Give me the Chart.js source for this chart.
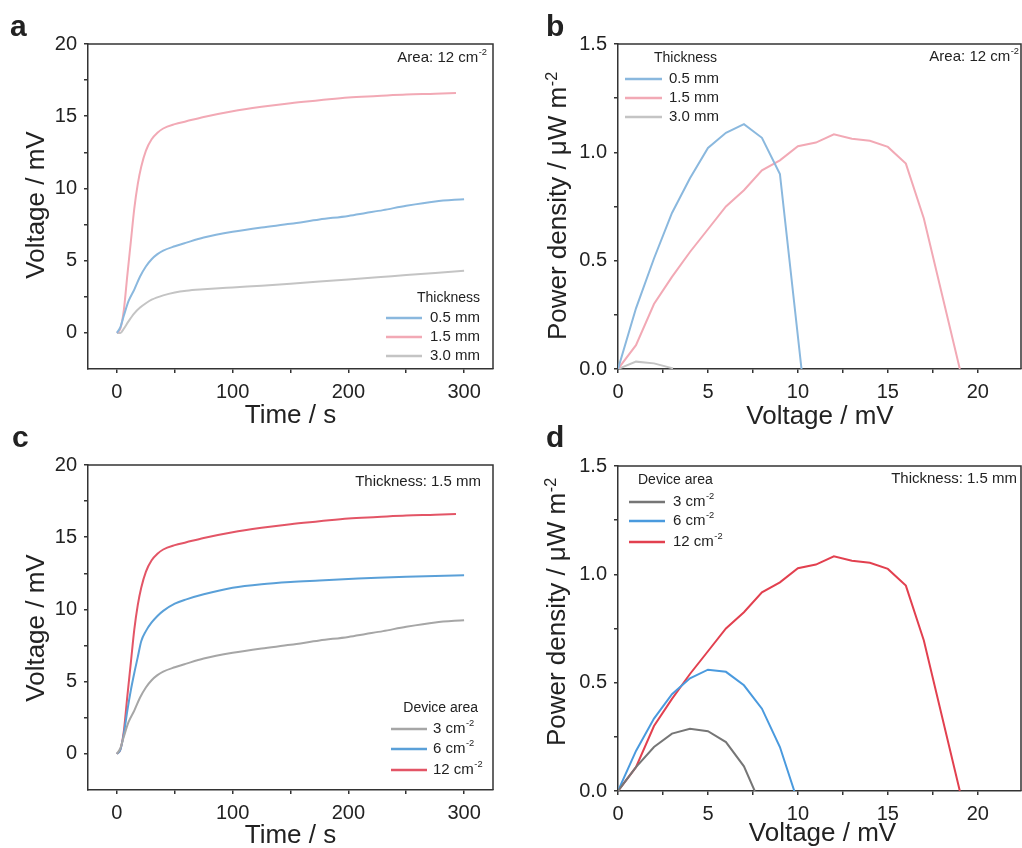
<!DOCTYPE html>
<html>
<head>
<meta charset="utf-8">
<script src="https://cdn.jsdelivr.net/npm/chart.js@4.4.1/dist/chart.umd.min.js"></script>
<style>
body { margin: 0; background: #fff; }
#wrap { position: relative; width: 1022px; height: 848px; overflow: hidden; }
canvas { position: absolute; }
</style>
</head>
<body>
<div id="wrap">
  <canvas id="pa"></canvas>
  <canvas id="pb"></canvas>
  <canvas id="pc"></canvas>
  <canvas id="pd"></canvas>
</div>
<script>
// ---- data ----
// voltage vs time, 1.5 mm / 12 cm-2
const tThick15 = [0, 3, 6, 9, 12, 15, 18, 21, 25, 30, 35, 40, 50, 60, 75, 100, 125, 150, 175, 200, 225, 250, 275, 293];
const vThick15 = [0, 0.3, 1.6, 4.0, 6.3, 8.6, 10.3, 11.5, 12.6, 13.4, 13.85, 14.15, 14.45, 14.65, 14.95, 15.35, 15.65, 15.9, 16.1, 16.3, 16.4, 16.5, 16.55, 16.6];
// 0.5 mm / 3 cm-2
const tThick05 = [0, 3, 6, 10, 15, 20, 25, 30, 35, 40, 50, 60, 75, 100, 125, 150, 175, 200, 215, 230, 250, 275, 300];
const vThick05 = [0, 0.4, 1.2, 2.2, 3.0, 3.9, 4.6, 5.1, 5.45, 5.7, 6.0, 6.25, 6.6, 7.0, 7.3, 7.55, 7.85, 8.1, 8.3, 8.5, 8.8, 9.1, 9.26];
// 3.0 mm
const tThick30 = [0, 3, 6, 10, 15, 20, 25, 30, 40, 50, 60, 75, 100, 125, 150, 175, 200, 225, 250, 275, 300];
const vThick30 = [0, 0, 0.3, 0.8, 1.35, 1.75, 2.05, 2.3, 2.6, 2.8, 2.92, 3.02, 3.15, 3.27, 3.4, 3.55, 3.7, 3.85, 4.0, 4.15, 4.3];
// 6 cm-2
const tArea6 = [0, 3, 6, 9, 12, 15, 18, 21, 25, 30, 35, 40, 50, 60, 75, 100, 125, 150, 175, 200, 225, 250, 275, 300];
const vArea6 = [0, 0.3, 1.4, 3.0, 4.4, 5.6, 6.7, 7.8, 8.5, 9.1, 9.55, 9.9, 10.4, 10.7, 11.05, 11.5, 11.75, 11.9, 12.0, 12.1, 12.2, 12.27, 12.32, 12.37];

// power density vs voltage
const uThick05 = [0, 1, 2, 3, 4, 5, 6, 7, 8, 9, 10.2];
const pThick05 = [0, 0.28, 0.51, 0.72, 0.88, 1.02, 1.09, 1.13, 1.067, 0.90, 0];
const uThick15 = [0, 1, 2, 3, 4, 5, 6, 7, 8, 9, 10, 11, 12, 13, 14, 15, 16, 17, 19];
const pThick15 = [0, 0.11, 0.30, 0.425, 0.54, 0.645, 0.75, 0.825, 0.917, 0.963, 1.028, 1.045, 1.083, 1.063, 1.053, 1.025, 0.948, 0.695, 0];
const uThick30 = [0, 1, 2, 3.06];
const pThick30 = [0, 0.034, 0.026, 0.003];
const uArea3 = [0, 1, 2, 3, 4, 5, 6, 7, 7.6];
const pArea3 = [0, 0.11, 0.203, 0.265, 0.287, 0.276, 0.226, 0.114, 0];
const uArea6 = [0, 1, 2, 3, 4, 5, 6, 7, 8, 9, 9.8];
const pArea6 = [0, 0.185, 0.334, 0.447, 0.52, 0.56, 0.55, 0.488, 0.38, 0.203, 0];

// ticks
const timeTicks = [0, 50, 100, 150, 200, 250, 300];
const timeLabels = [0, 100, 200, 300];
const mvTicks = [0, 2.5, 5, 7.5, 10, 12.5, 15, 17.5, 20];
const mvLabels = [0, 5, 10, 15, 20];
const uTicks = [0, 2.5, 5, 7.5, 10, 12.5, 15, 17.5, 20];
const uLabels = [0, 5, 10, 15, 20];
const pTicks = [0, 0.25, 0.5, 0.75, 1, 1.25, 1.5];
const pLabels = [0, 0.5, 1, 1.5];

const FONT = '"Liberation Sans", Arial, sans-serif';
const INK = '#222';

function pts(xs, ys) {
  return xs.map((x, i) => ({ x: x, y: ys[i] }));
}

function drawSup(ctx, str, x, y, size, align) {
  const parts = str.split('^');
  ctx.font = size + 'px ' + FONT;
  const w1 = ctx.measureText(parts[0]).width;
  let w2 = 0;
  const ss = size * 0.62;
  if (parts[1]) {
    ctx.font = ss + 'px ' + FONT;
    w2 = ctx.measureText(parts[1]).width + 0.5;
  }
  let x0 = x;
  if (align === 'right') x0 = x - w1 - w2;
  if (align === 'center') x0 = x - (w1 + w2) / 2;
  ctx.textAlign = 'left';
  ctx.font = size + 'px ' + FONT;
  ctx.fillText(parts[0], x0, y);
  if (parts[1]) {
    ctx.font = ss + 'px ' + FONT;
    ctx.fillText(parts[1], x0 + w1 + 0.5, y - size * 0.36);
  }
}

const decorate = {
  id: 'decorate',
  afterDraw(chart) {
    const p = chart.options.plugins.decorate;
    const ctx = chart.ctx;
    const a = chart.chartArea;
    ctx.save();
    // top + right frame
    ctx.strokeStyle = '#333';
    ctx.lineWidth = 1.5;
    ctx.beginPath();
    ctx.moveTo(a.left, a.top);
    ctx.lineTo(a.right, a.top);
    ctx.lineTo(a.right, a.bottom);
    ctx.stroke();

    ctx.fillStyle = INK;
    // panel letter
    ctx.font = 'bold 30px ' + FONT;
    ctx.textBaseline = 'alphabetic';
    ctx.textAlign = 'left';
    ctx.fillText(p.letter, p.letterPos[0], p.letterPos[1]);

    // axis titles
    drawSup(ctx, p.xTitle, p.xTitlePos[0], p.xTitlePos[1], 26, 'center');
    ctx.save();
    ctx.translate(p.yTitlePos[0], p.yTitlePos[1]);
    ctx.rotate(-Math.PI / 2);
    drawSup(ctx, p.yTitle, 0, 0, 26, 'center');
    ctx.restore();

    // note
    ctx.textBaseline = 'middle';
    drawSup(ctx, p.note, p.notePos[0], p.notePos[1], 15, 'right');

    // legend
    const lg = p.legend;
    ctx.font = '14px ' + FONT;
    ctx.textAlign = lg.titleAlign;
    ctx.fillText(lg.title, lg.titleX, lg.titleY);
    chart.data.datasets.forEach((ds, i) => {
      const y = lg.rows[i];
      ctx.strokeStyle = ds.borderColor;
      ctx.lineWidth = 2.5;
      ctx.beginPath();
      ctx.moveTo(lg.x1, y);
      ctx.lineTo(lg.x2, y);
      ctx.stroke();
      ctx.fillStyle = INK;
      drawSup(ctx, ds.label, lg.textX, y, 15, 'left');
    });
    ctx.restore();
  }
};

function makePanel(cfg) {
  const cv = document.getElementById(cfg.id);
  cv.width = cfg.w;
  cv.height = cfg.h;
  cv.style.left = cfg.left + 'px';
  cv.style.top = cfg.top + 'px';
  cv.style.width = cfg.w + 'px';
  cv.style.height = cfg.h + 'px';

  const axis = (min, max, ticks, labels, fmt, extra) => Object.assign({
    type: 'linear',
    min: min,
    max: max,
    afterBuildTicks: (s) => { s.ticks = ticks.map(v => ({ value: v })); },
    grid: { drawOnChartArea: false, drawTicks: true, tickLength: 4, color: '#333', lineWidth: 1.5 },
    border: { display: true, color: '#333', width: 1.5 },
    ticks: {
      color: INK,
      padding: 7,
      font: { size: 20, family: FONT },
      autoSkip: false,
      maxRotation: 0,
      callback: (v) => labels.some(l => Math.abs(l - v) < 1e-9) ? fmt(v) : ''
    }
  }, extra);

  new Chart(cv, {
    type: 'line',
    data: {
      datasets: cfg.series.map(s => ({
        label: s.label,
        data: pts(s.xs, s.ys),
        borderColor: s.color,
        borderWidth: 2,
        pointRadius: 0,
        fill: false,
        tension: 0,
        cubicInterpolationMode: cfg.smooth ? 'monotone' : 'default'
      }))
    },
    options: {
      responsive: false,
      animation: false,
      layout: { padding: { left: 0, top: cfg.plot.t, right: cfg.w - cfg.plot.r, bottom: 0 } },
      scales: {
        x: axis(cfg.xMin, cfg.xMax, cfg.xTicks, cfg.xLabels, cfg.xFmt, {
          position: 'bottom',
          afterFit: (s) => { s.height = cfg.h - cfg.plot.b; }
        }),
        y: axis(cfg.yMin, cfg.yMax, cfg.yTicks, cfg.yLabels, cfg.yFmt, {
          position: 'left',
          afterFit: (s) => { s.width = cfg.plot.l; }
        })
      },
      plugins: {
        legend: { display: false },
        tooltip: { enabled: false },
        decorate: cfg.deco
      }
    },
    plugins: [decorate]
  });
}

const intFmt = (v) => String(v);
const oneFmt = (v) => v.toFixed(1);

const lightBlue = '#8ab8de', lightPink = '#f2a9b5', lightGray = '#c4c4c4';
const midGray = '#a6a6a6', midBlue = '#5aa0d8', midRed = '#e35566';
const darkGray = '#767676', deepBlue = '#4a9ade', deepRed = '#e2404f';

makePanel({
  id: 'pa', left: 0, top: 0, w: 511, h: 436,
  plot: { l: 88, t: 44, r: 493, b: 369 },
  xMin: -25, xMax: 325, xTicks: timeTicks, xLabels: timeLabels, xFmt: intFmt,
  yMin: -2.5, yMax: 20, yTicks: mvTicks, yLabels: mvLabels, yFmt: intFmt,
  smooth: true,
  series: [
    { label: '0.5 mm', xs: tThick05, ys: vThick05, color: lightBlue },
    { label: '1.5 mm', xs: tThick15, ys: vThick15, color: lightPink },
    { label: '3.0 mm', xs: tThick30, ys: vThick30, color: lightGray }
  ],
  deco: {
    letter: 'a', letterPos: [10, 36],
    xTitle: 'Time / s', xTitlePos: [290.5, 423],
    yTitle: 'Voltage / mV', yTitlePos: [44, 205],
    note: 'Area: 12 cm^-2', notePos: [487, 58],
    legend: { title: 'Thickness', titleAlign: 'right', titleX: 480, titleY: 298,
      x1: 386, x2: 422, textX: 430, rows: [318, 337, 356] }
  }
});

makePanel({
  id: 'pb', left: 511, top: 0, w: 511, h: 436,
  plot: { l: 107, t: 44, r: 510, b: 369 },
  xMin: 0, xMax: 22.4, xTicks: uTicks, xLabels: uLabels, xFmt: intFmt,
  yMin: 0, yMax: 1.5, yTicks: pTicks, yLabels: pLabels, yFmt: oneFmt,
  smooth: false,
  series: [
    { label: '0.5 mm', xs: uThick05, ys: pThick05, color: lightBlue },
    { label: '1.5 mm', xs: uThick15, ys: pThick15, color: lightPink },
    { label: '3.0 mm', xs: uThick30, ys: pThick30, color: lightGray }
  ],
  deco: {
    letter: 'b', letterPos: [35, 36],
    xTitle: 'Voltage / mV', xTitlePos: [309, 424],
    yTitle: 'Power density / \u03bcW m^-2', yTitlePos: [55, 206],
    note: 'Area: 12 cm^-2', notePos: [508, 57],
    legend: { title: 'Thickness', titleAlign: 'left', titleX: 143, titleY: 58,
      x1: 114, x2: 151, textX: 158, rows: [79, 98, 117] }
  }
});

makePanel({
  id: 'pc', left: 0, top: 424, w: 511, h: 424,
  plot: { l: 88, t: 41, r: 493, b: 366 },
  xMin: -25, xMax: 325, xTicks: timeTicks, xLabels: timeLabels, xFmt: intFmt,
  yMin: -2.5, yMax: 20, yTicks: mvTicks, yLabels: mvLabels, yFmt: intFmt,
  smooth: true,
  series: [
    { label: '3 cm^-2', xs: tThick05, ys: vThick05, color: midGray },
    { label: '6 cm^-2', xs: tArea6, ys: vArea6, color: midBlue },
    { label: '12 cm^-2', xs: tThick15, ys: vThick15, color: midRed }
  ],
  deco: {
    letter: 'c', letterPos: [12, 23],
    xTitle: 'Time / s', xTitlePos: [290.5, 419],
    yTitle: 'Voltage / mV', yTitlePos: [44, 204],
    note: 'Thickness: 1.5 mm', notePos: [481, 58],
    legend: { title: 'Device area', titleAlign: 'right', titleX: 478, titleY: 284,
      x1: 391, x2: 427, textX: 433, rows: [305, 325, 346] }
  }
});

makePanel({
  id: 'pd', left: 511, top: 424, w: 511, h: 424,
  plot: { l: 107, t: 42, r: 510, b: 367 },
  xMin: 0, xMax: 22.4, xTicks: uTicks, xLabels: uLabels, xFmt: intFmt,
  yMin: 0, yMax: 1.5, yTicks: pTicks, yLabels: pLabels, yFmt: oneFmt,
  smooth: false,
  series: [
    { label: '3 cm^-2', xs: uArea3, ys: pArea3, color: darkGray },
    { label: '6 cm^-2', xs: uArea6, ys: pArea6, color: deepBlue },
    { label: '12 cm^-2', xs: uThick15, ys: pThick15, color: deepRed }
  ],
  deco: {
    letter: 'd', letterPos: [35, 23],
    xTitle: 'Voltage / mV', xTitlePos: [311.5, 417],
    yTitle: 'Power density / \u03bcW m^-2', yTitlePos: [54, 188],
    note: 'Thickness: 1.5 mm', notePos: [506, 55],
    legend: { title: 'Device area', titleAlign: 'left', titleX: 127, titleY: 56,
      x1: 118, x2: 154, textX: 162, rows: [78, 97, 118] }
  }
});
</script>
</body>
</html>
